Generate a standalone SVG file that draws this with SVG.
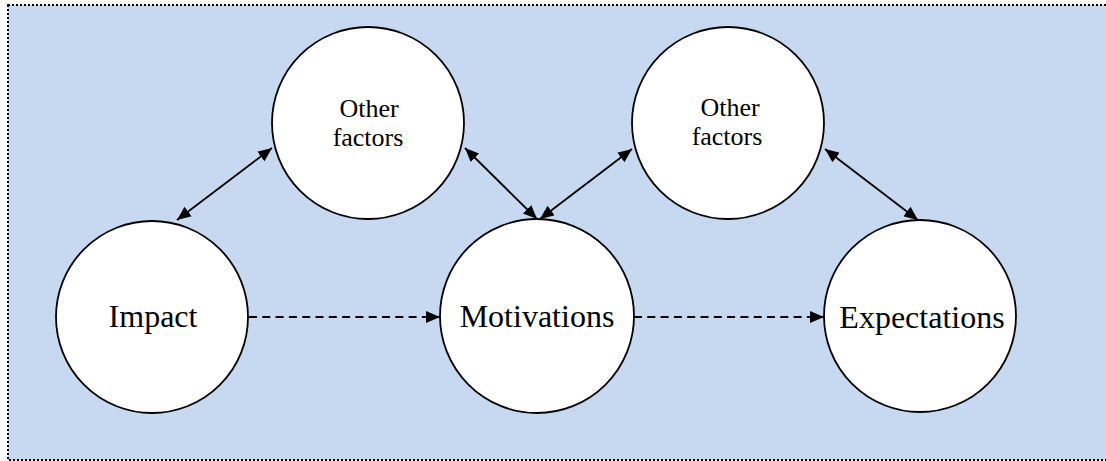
<svg xmlns="http://www.w3.org/2000/svg" width="1106" height="461" viewBox="0 0 1106 461">
  <style>
    .node circle { fill: #ffffff; stroke: #000000; stroke-width: 1.8; }
    text { font-family: "Liberation Serif", "Times New Roman", "DejaVu Serif", serif; fill: #000000; text-anchor: middle; }
    .big { font-size: 32px; }
    .small { font-size: 26px; }
    .solid { stroke: #000000; stroke-width: 1.8; fill: none; marker-start: url(#ah); marker-end: url(#ah); }
    .dash { stroke: #000000; stroke-width: 2.2; fill: none; stroke-dasharray: 8 5.3; marker-end: url(#ah); }
  </style>
  <defs>
    <marker id="ah" viewBox="0 0 14 12" refX="14" refY="6" markerWidth="14" markerHeight="12" markerUnits="userSpaceOnUse" orient="auto-start-reverse">
      <path d="M0,0 L14,6 L0,12 z" fill="#000000"/>
    </marker>
  </defs>
  <rect x="8" y="5" width="1100" height="455" fill="#C6D9F0" stroke="#000000" stroke-width="2" stroke-dasharray="2 2"/>
  <g id="connectors">
    <line class="solid" x1="177" y1="220" x2="272" y2="148"/>
    <line class="solid" x1="465" y1="148" x2="537" y2="219"/>
    <line class="solid" x1="540" y1="219" x2="632" y2="149"/>
    <line class="solid" x1="825" y1="149" x2="918" y2="220"/>
    <line class="dash" x1="249" y1="317" x2="440" y2="317"/>
    <line class="dash" x1="634" y1="317" x2="824" y2="317"/>
  </g>
  <g id="other1" class="node">
    <circle cx="368" cy="123" r="96"/>
    <text class="small" x="369" y="117">Other</text>
    <text class="small" x="368" y="146">factors</text>
  </g>
  <g id="other2" class="node">
    <circle cx="728" cy="123" r="96"/>
    <text class="small" x="730" y="116">Other</text>
    <text class="small" x="727" y="145">factors</text>
  </g>
  <g id="impact" class="node">
    <circle cx="152" cy="317" r="96"/>
    <text class="big" x="153" y="327">Impact</text>
  </g>
  <g id="motivations" class="node">
    <circle cx="537" cy="316" r="97"/>
    <text class="big" x="537" y="327">Motivations</text>
  </g>
  <g id="expectations" class="node">
    <circle cx="920" cy="316" r="96"/>
    <text class="big" x="922" y="328">Expectations</text>
  </g>
</svg>
